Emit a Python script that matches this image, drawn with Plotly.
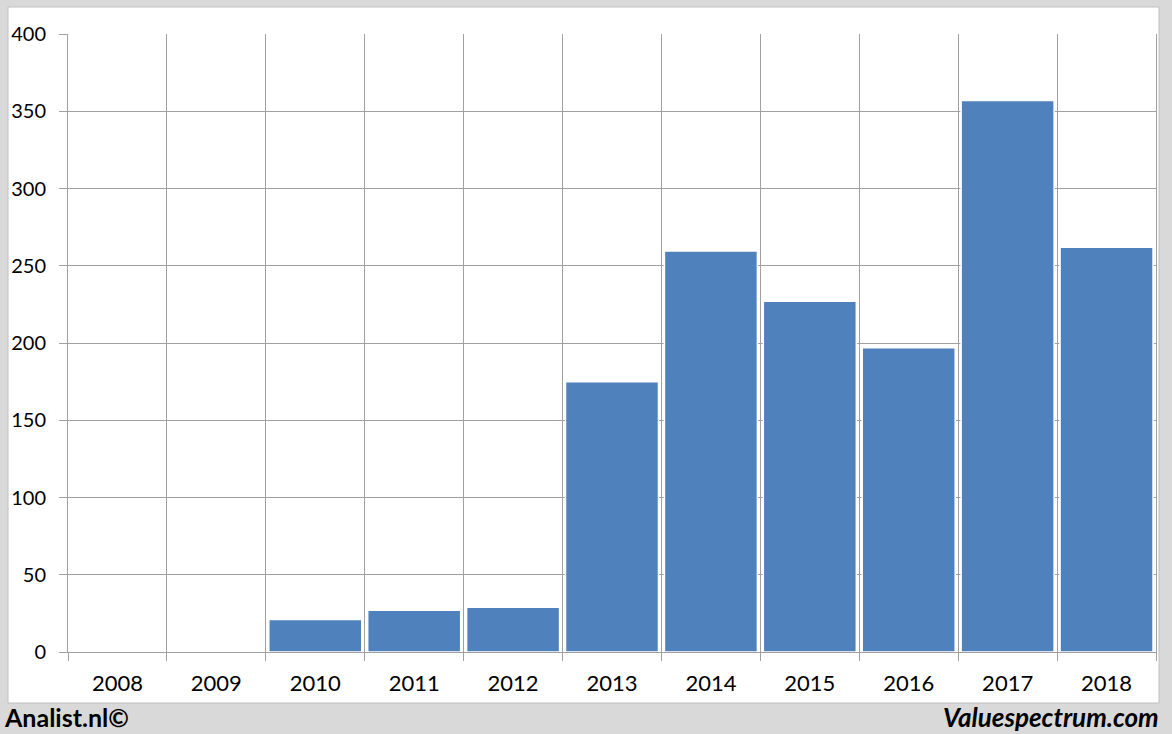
import plotly.graph_objects as go

years = ["2008", "2009", "2010", "2011", "2012", "2013", "2014", "2015", "2016", "2017", "2018"]
values = [0, 0, 21, 27, 29, 175, 259.5, 227, 197, 357, 262]
y_ticks = [0, 50, 100, 150, 200, 250, 300, 350, 400]

W, H = 1172, 734
L, R, T, B = 68, 16, 34, 82

fig = go.Figure(go.Bar(
    x=years, y=values,
    marker=dict(color="#4f81bd", line=dict(color="white", width=1.5)),
))

fig.update_layout(
    width=W, height=H,
    margin=dict(l=L, r=R, t=T, b=B, autoexpand=False),
    paper_bgcolor="#d9d9d9",
    plot_bgcolor="white",
    bargap=0.06,
    showlegend=False,
    font=dict(family="Lato, Carlito, Calibri, sans-serif", size=20, color="#000"),
)

fig.update_xaxes(
    type="category",
    tickson="boundaries",
    automargin=False,
    showgrid=True, gridcolor="#a0a0a0", gridwidth=1,
    ticks="outside", ticklen=8, tickcolor="#a0a0a0",
    showline=True, linecolor="#a0a0a0", linewidth=1,
    tickfont=dict(size=22),
    ticklabelstandoff=12,
)
fig.update_yaxes(
    range=[0, 400], tickvals=y_ticks,
    automargin=False,
    showgrid=True, gridcolor="#a0a0a0", gridwidth=1,
    ticks="outside", ticklen=8, tickcolor="#a0a0a0",
    showline=True, linecolor="#a0a0a0", linewidth=1, mirror=True,
    zeroline=False,
    tickfont=dict(size=20),
    ticklabelstandoff=9,
)

# white chart box
fig.add_shape(type="rect", xref="paper", yref="paper",
              x0=(8 - L) / (W - L - R), x1=(1159 - L) / (W - L - R),
              y0=(H - B - 703) / (H - T - B), y1=(H - B - 7) / (H - T - B),
              fillcolor="white", line=dict(color="#c0c0c0", width=1), layer="below")

fig.add_annotation(text="<b>Analist.nl©</b>", xref="paper", yref="paper",
                   x=(2 - L) / (W - L - R), y=(H - B - 717) / (H - T - B),
                   xanchor="left", yanchor="middle", showarrow=False,
                   font=dict(size=25, family="Lato, Carlito, sans-serif", color="#000"))
fig.add_annotation(text="<b><i>Valuespectrum.com</i></b>", xref="paper", yref="paper",
                   x=(1161 - L) / (W - L - R), y=(H - B - 717) / (H - T - B),
                   xanchor="right", yanchor="middle", showarrow=False,
                   font=dict(size=26, family="Lato, Carlito, sans-serif", color="#000"))

fig.write_html("out.html", config={"displayModeBar": False},
               post_script="document.body.style.margin='0';document.body.style.overflow='hidden';")
